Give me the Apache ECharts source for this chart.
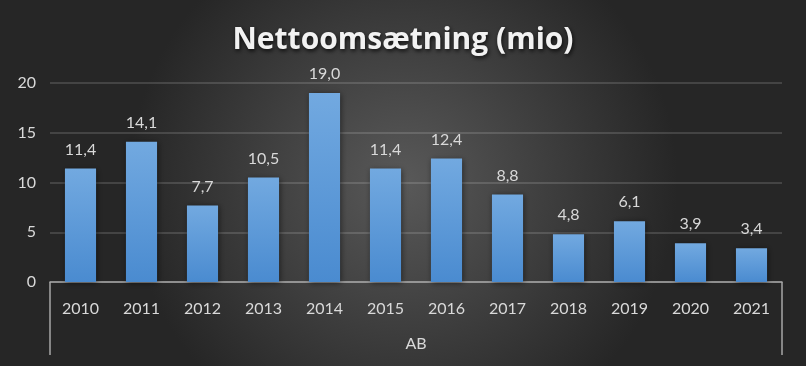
<!DOCTYPE html>
<html><head><meta charset="utf-8">
<script src="https://cdn.jsdelivr.net/npm/echarts@6/dist/echarts.min.js"></script>
<style>html,body{margin:0;padding:0;}#c{width:806px;height:366px;}</style>
</head><body><div id="c"></div>
<script>
const categories = ['2010','2011','2012','2013','2014','2015','2016','2017','2018','2019','2020','2021'];
const values = [11.4, 14.1, 7.7, 10.5, 19.0, 11.4, 12.4, 8.8, 4.8, 6.1, 3.9, 3.4];
const groupLabels = ['AB'];
const yTicks = {min: 0, max: 20, interval: 5};
const titleText = 'Nettoomsætning (mio)';

const chart = echarts.init(document.getElementById('c'), null, {renderer: 'canvas'});
const font = 'Lato, "Open Sans", sans-serif';
chart.setOption({
  backgroundColor: {
    type: 'radial', x: 0.5, y: 0.5, r: 0.75,
    colorStops: [{offset: 0, color: '#595959'}, {offset: 1, color: '#262626'}]
  },
  title: {
    text: titleText, left: 'center', top: 20,
    textStyle: {
      fontFamily: '"Open Sans", Lato, sans-serif', fontWeight: 'bold', fontSize: 30, color: '#f2f2f2',
      textShadowColor: 'rgba(0,0,0,0.8)', textShadowBlur: 4, textShadowOffsetX: 1, textShadowOffsetY: 2
    }
  },
  grid: {left: 50, right: 24, top: 83, bottom: 84, containLabel: false},
  xAxis: [{
    type: 'category', data: categories, position: 'bottom',
    axisLine: {show: true, lineStyle: {color: '#a6a6a6', width: 1.5}},
    axisTick: {show: false},
    axisLabel: {color: '#d9d9d9', fontFamily: font, fontSize: 16, margin: 19}
  }, {
    type: 'category', data: groupLabels, position: 'bottom',
    axisLine: {show: false},
    axisTick: {show: true, length: 73, alignWithLabel: false, lineStyle: {color: '#a6a6a6', width: 1.5}},
    axisLabel: {color: '#d9d9d9', fontFamily: font, fontSize: 16, margin: 54}
  }],
  yAxis: {
    type: 'value', min: yTicks.min, max: yTicks.max, interval: yTicks.interval,
    axisLine: {show: false}, axisTick: {show: false},
    axisLabel: {color: '#d9d9d9', fontFamily: font, fontSize: 16, margin: 14},
    splitLine: {lineStyle: {color: 'rgba(255,255,255,0.14)', width: 2}}
  },
  series: [{
    type: 'bar', data: values, barWidth: '51%', xAxisIndex: 0,
    itemStyle: {
      color: {type: 'linear', x: 0, y: 0, x2: 0, y2: 1,
        colorStops: [{offset: 0, color: '#72a9e0'}, {offset: 1, color: '#4a8bd0'}]},
      shadowColor: 'rgba(0,0,0,0.5)', shadowBlur: 6, shadowOffsetX: 1, shadowOffsetY: 1
    },
    label: {
      show: true, position: 'top', distance: 11, color: '#d9d9d9', fontFamily: font, fontSize: 16,
      formatter: p => p.value.toFixed(1).replace('.', ',')
    }
  }]
});
</script></body></html>
